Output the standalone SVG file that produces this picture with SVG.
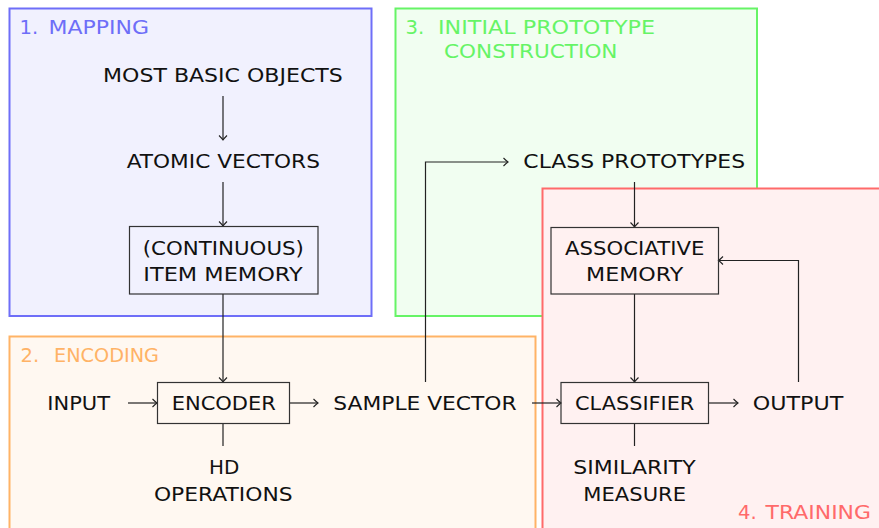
<svg xmlns="http://www.w3.org/2000/svg" width="879" height="528" viewBox="0 0 879 528">
  <style>
    .t { font-family: "DejaVu Sans", "Liberation Sans", sans-serif; font-size: 19.6px; fill: #111; }
    .c { text-anchor: middle; }
    .box { fill: none; stroke: #333; stroke-width: 1.2; }
    .ln { fill: none; stroke: #222; stroke-width: 1.2; }
    .arr { marker-end: url(#to); }
    .frame { stroke-width: 2; }
    .blue { fill: #6e6ef8; }
    .orange { fill: #ffb366; }
    .green { fill: #66f466; }
    .red { fill: #ff6a6a; }
  </style>
  <defs>
    <marker id="to" markerUnits="userSpaceOnUse" markerWidth="12" markerHeight="12" viewBox="-6 -6 12 12" refX="0" refY="0" orient="auto" overflow="visible">
      <path d="M -4.5 -4 Q -1.5 -1 0 0 Q -1.5 1 -4.5 4" fill="none" stroke="#222" stroke-width="1.1"/>
    </marker>
  </defs>

  <!-- phase frames -->
  <g id="phase-mapping">
    <rect class="frame" x="9.5" y="8.5" width="362" height="307.5" fill="#f1f1fe" stroke="#6e6ef8"/>
    <text class="t blue" x="19.5" y="34">1.</text>
    <text class="t blue" x="48.5" y="34" textLength="100.5" lengthAdjust="spacingAndGlyphs">MAPPING</text>
  </g>
  <g id="phase-encoding">
    <rect class="frame" x="9.5" y="336.5" width="526" height="200" fill="#fff8f1" stroke="#ffb366"/>
    <text class="t orange" x="20.5" y="361.7">2.</text>
    <text class="t orange" x="54" y="361.7" textLength="105" lengthAdjust="spacingAndGlyphs">ENCODING</text>
  </g>
  <g id="phase-prototype">
    <rect class="frame" x="395.5" y="8.5" width="361.5" height="307.5" fill="#f1fef1" stroke="#66f466"/>
    <text class="t green" x="405.5" y="34">3.</text>
    <text class="t green" x="438" y="34" textLength="217" lengthAdjust="spacingAndGlyphs">INITIAL PROTOTYPE</text>
    <text class="t green" x="444" y="58" textLength="173.5" lengthAdjust="spacingAndGlyphs">CONSTRUCTION</text>
  </g>
  <g id="phase-training">
    <rect class="frame" x="542.5" y="188.5" width="345" height="350" fill="#fff1f1" stroke="#ff6a6a"/>
    <text class="t red" x="738" y="519">4.</text>
    <text class="t red" x="765.5" y="519" textLength="105.5" lengthAdjust="spacingAndGlyphs">TRAINING</text>
  </g>

  <!-- connectors -->
  <g id="connectors">
    <line class="ln arr" x1="223" y1="96" x2="223" y2="140"/>
    <line class="ln arr" x1="223" y1="182" x2="223" y2="226"/>
    <line class="ln arr" x1="223" y1="294" x2="223" y2="382"/>
    <line class="ln arr" x1="128" y1="403" x2="157" y2="403"/>
    <line class="ln arr" x1="290" y1="403" x2="318" y2="403"/>
    <line class="ln" x1="223" y1="424" x2="223" y2="446"/>
    <polyline class="ln arr" points="425.5,382 425.5,162 508,162"/>
    <line class="ln arr" x1="634.5" y1="182" x2="634.5" y2="227"/>
    <line class="ln arr" x1="634.5" y1="294" x2="634.5" y2="382"/>
    <line class="ln arr" x1="532" y1="403" x2="561" y2="403"/>
    <line class="ln arr" x1="709" y1="403" x2="738" y2="403"/>
    <line class="ln" x1="634.5" y1="424" x2="634.5" y2="446"/>
    <polyline class="ln arr" points="798.5,382 798.5,260.5 718.5,260.5"/>
  </g>

  <!-- nodes -->
  <g id="most-basic-objects">
    <text class="t c" x="222.9" y="82" textLength="239.7" lengthAdjust="spacingAndGlyphs">MOST BASIC OBJECTS</text>
  </g>
  <g id="atomic-vectors">
    <text class="t c" x="223.3" y="168" textLength="193.3" lengthAdjust="spacingAndGlyphs">ATOMIC VECTORS</text>
  </g>
  <g id="item-memory">
    <rect class="box" x="129.5" y="226.5" width="188.5" height="67.5"/>
    <text class="t c" x="223.3" y="255" textLength="161.3" lengthAdjust="spacingAndGlyphs">(CONTINUOUS)</text>
    <text class="t c" x="223" y="281" textLength="159.3" lengthAdjust="spacingAndGlyphs">ITEM MEMORY</text>
  </g>
  <g id="input">
    <text class="t c" x="78.7" y="410" textLength="62.7" lengthAdjust="spacingAndGlyphs">INPUT</text>
  </g>
  <g id="encoder">
    <rect class="box" x="157.5" y="382.5" width="132" height="41"/>
    <text class="t c" x="223.8" y="410" textLength="104.3" lengthAdjust="spacingAndGlyphs">ENCODER</text>
  </g>
  <g id="hd-operations">
    <text class="t c" x="224.1" y="474.3" textLength="30.3" lengthAdjust="spacingAndGlyphs">HD</text>
    <text class="t c" x="223.3" y="500.5" textLength="138.7" lengthAdjust="spacingAndGlyphs">OPERATIONS</text>
  </g>
  <g id="sample-vector">
    <text class="t c" x="425" y="410" textLength="183.3" lengthAdjust="spacingAndGlyphs">SAMPLE VECTOR</text>
  </g>
  <g id="class-prototypes">
    <text class="t c" x="634.2" y="168" textLength="221.7" lengthAdjust="spacingAndGlyphs">CLASS PROTOTYPES</text>
  </g>
  <g id="associative-memory">
    <rect class="box" x="551" y="227.5" width="167.5" height="66.5"/>
    <text class="t c" x="634.7" y="255" textLength="139.3" lengthAdjust="spacingAndGlyphs">ASSOCIATIVE</text>
    <text class="t c" x="634.7" y="280.7" textLength="97.3" lengthAdjust="spacingAndGlyphs">MEMORY</text>
  </g>
  <g id="classifier">
    <rect class="box" x="561" y="382.5" width="147.5" height="41"/>
    <text class="t c" x="634.7" y="410" textLength="119.3" lengthAdjust="spacingAndGlyphs">CLASSIFIER</text>
  </g>
  <g id="output">
    <text class="t c" x="798" y="410" textLength="90.6" lengthAdjust="spacingAndGlyphs">OUTPUT</text>
  </g>
  <g id="similarity-measure">
    <text class="t c" x="634.5" y="474.3" textLength="122.4" lengthAdjust="spacingAndGlyphs">SIMILARITY</text>
    <text class="t c" x="634.7" y="500.5" textLength="102.7" lengthAdjust="spacingAndGlyphs">MEASURE</text>
  </g>
</svg>
